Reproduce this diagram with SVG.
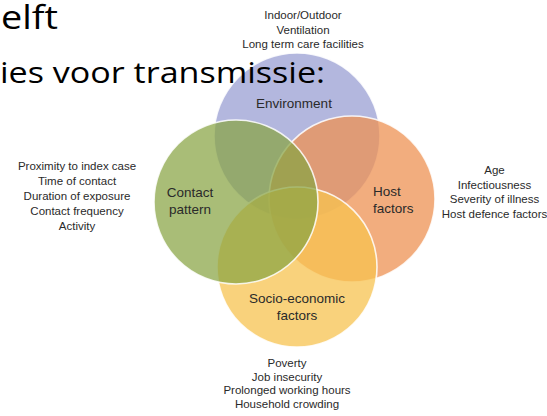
<svg xmlns="http://www.w3.org/2000/svg" width="547" height="416" viewBox="0 0 547 416">
<style>
.title{font-family:"Open Sans","Liberation Sans",Arial,sans-serif;fill:#000000}
.lbl{font-family:"Liberation Sans",Arial,sans-serif;font-size:13.5px;fill:#2a2a2a}
.ann{font-family:"Liberation Sans",Arial,sans-serif;font-size:11.5px;fill:#2a2a2a;text-anchor:middle}
.c{stroke:#ffffff;stroke-width:1.6;stroke-opacity:0.85}
</style>
<rect width="547" height="416" fill="#ffffff"/>
<g id="environment">
<circle class="c" cx="297" cy="136" r="83" fill="#9a9fd3" fill-opacity="0.75"/>
<text class="lbl" x="294" y="108" text-anchor="middle">Environment</text>
</g>
<g id="host">
<circle class="c" cx="352" cy="199" r="83" fill="#ee9253" fill-opacity="0.75"/>
</g>
<g id="socio">
<circle class="c" cx="297" cy="267" r="80" fill="#f7c350" fill-opacity="0.75"/>
</g>
<g id="contact">
<circle class="c" cx="236" cy="202" r="82" fill="#88a443" fill-opacity="0.72"/>
</g>
<g id="labels">
<text class="lbl" x="190" y="197" text-anchor="middle">Contact</text>
<text class="lbl" x="190" y="214" text-anchor="middle">pattern</text>
<text class="lbl" x="373" y="196">Host</text>
<text class="lbl" x="373" y="213">factors</text>
<text class="lbl" x="297" y="303" text-anchor="middle">Socio-economic</text>
<text class="lbl" x="297" y="320" text-anchor="middle">factors</text>
</g>
<g id="title">
<text class="title" x="1" y="29" font-size="32" textLength="57" lengthAdjust="spacingAndGlyphs">elft</text>
<text class="title" x="0" y="83" font-size="30" textLength="325" lengthAdjust="spacingAndGlyphs">ies voor transmissie:</text>
</g>
<g id="env-notes">
<text class="ann" x="303" y="18.5">Indoor/Outdoor</text>
<text class="ann" x="303" y="33.5">Ventilation</text>
<text class="ann" x="303" y="48">Long term care facilities</text>
</g>
<g id="contact-notes">
<text class="ann" x="77" y="169.5">Proximity to index case</text>
<text class="ann" x="77" y="184.5">Time of contact</text>
<text class="ann" x="77" y="199.5">Duration of exposure</text>
<text class="ann" x="77" y="214.5">Contact frequency</text>
<text class="ann" x="77" y="229.5">Activity</text>
</g>
<g id="host-notes">
<text class="ann" x="494.5" y="174">Age</text>
<text class="ann" x="494.5" y="188.5">Infectiousness</text>
<text class="ann" x="494.5" y="203">Severity of illness</text>
<text class="ann" x="494.5" y="218">Host defence factors</text>
</g>
<g id="socio-notes">
<text class="ann" x="287" y="367">Poverty</text>
<text class="ann" x="287" y="380.5">Job insecurity</text>
<text class="ann" x="287" y="394">Prolonged working hours</text>
<text class="ann" x="287" y="407.5">Household crowding</text>
</g>
<g id="connectors"></g>
</svg>
